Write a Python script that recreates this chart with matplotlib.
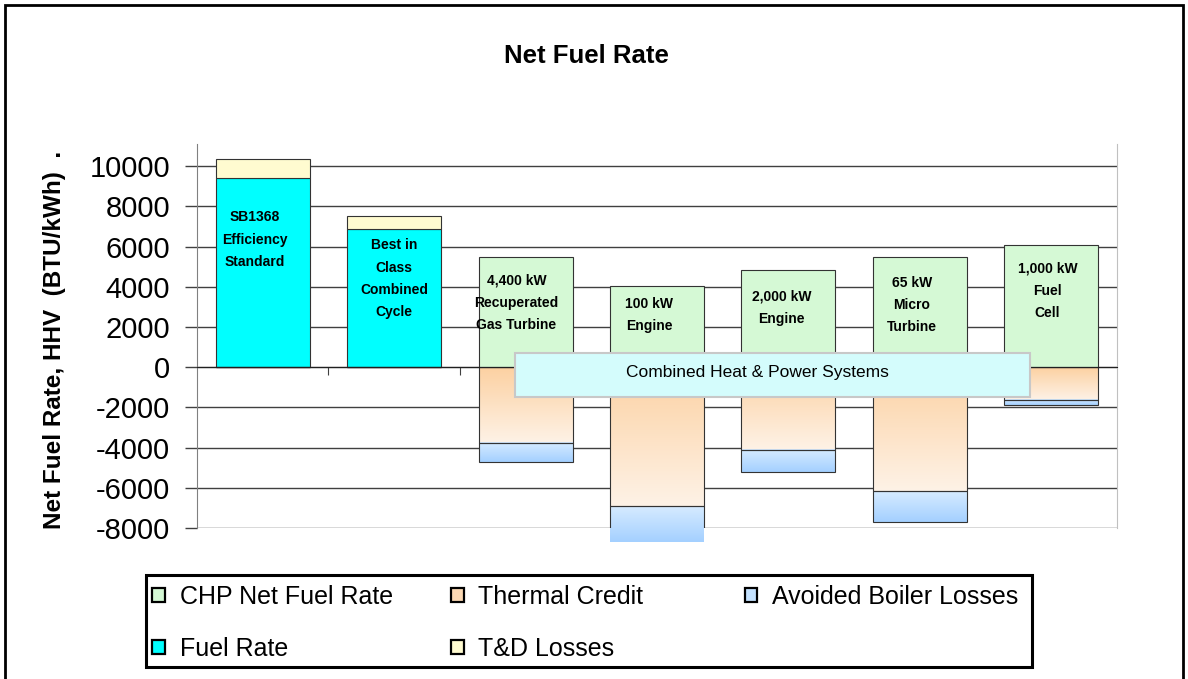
import numpy as np
import matplotlib
matplotlib.use("Agg")
import matplotlib.pyplot as plt
from matplotlib.patches import Patch, Rectangle
from matplotlib.colors import LinearSegmentedColormap

plt.rcParams['font.family'] = ['Liberation Sans', 'DejaVu Sans']

# values (BTU/kWh)
systems = ['SB1368\nEfficiency\nStandard', 'Best in\nClass\nCombined\nCycle',
           '4,400 kW\nRecuperated\nGas Turbine', '100 kW\nEngine',
           '2,000 kW\nEngine', '65 kW\nMicro\nTurbine', '1,000 kW\nFuel\nCell']
fuel_rate = [9400, 6870, 0, 0, 0, 0, 0]
td_losses = [930, 640, 0, 0, 0, 0, 0]
chp_net = [0, 0, 5470, 4050, 4840, 5460, 6080]
thermal_credit = [0, 0, -3780, -6930, -4110, -6170, -1630]
boiler_losses = [0, 0, -960, -1780, -1100, -1540, -260]
y_ticks = [-8000, -6000, -4000, -2000, 0, 2000, 4000, 6000, 8000, 10000]

# where the in-bar labels sit
label_y = [7800, 6400, 4650, 3500, 3850, 4550, 5250]
label_dx = [-0.06, 0.0, -0.07, -0.06, -0.05, -0.06, -0.03]

W, H = 1188, 679
fig = plt.figure(figsize=(W / 100, H / 100), dpi=100)
ax = fig.add_axes([197 / W, 1 - 528 / H, 920 / W, 384 / H])

x = np.arange(len(systems))
bw = 0.715
edge = '#333333'

c_chp = '#D5F9D5'
c_fuel = '#00FFFF'
c_td = '#FFFBD0'
cm_thermal = LinearSegmentedColormap.from_list('th', ['#FCD1A2', '#FEF2E6'])
cm_boiler = LinearSegmentedColormap.from_list('bo', ['#D6EBFF', '#A4D0FF'])
grad = np.linspace(0, 1, 64).reshape(-1, 1)

# positive stacks
ax.bar(x, fuel_rate, bw, color=c_fuel, edgecolor=edge, linewidth=0.8, zorder=3)
ax.bar(x, td_losses, bw, bottom=fuel_rate, color=c_td, edgecolor=edge, linewidth=0.8, zorder=3)
ax.bar(x, chp_net, bw, color=c_chp, edgecolor=edge, linewidth=0.8, zorder=3)

# negative stacks, filled with a vertical gradient like the original
for i in range(len(x)):
    if thermal_credit[i] == 0:
        continue
    x0, x1 = x[i] - bw / 2, x[i] + bw / 2
    t_bot = thermal_credit[i]
    b_bot = thermal_credit[i] + boiler_losses[i]
    ax.imshow(grad, extent=[x0, x1, t_bot, 0], origin='upper', cmap=cm_thermal,
              aspect='auto', zorder=2.5, clip_on=False)
    ax.imshow(grad, extent=[x0, x1, b_bot, t_bot], origin='upper', cmap=cm_boiler,
              aspect='auto', zorder=2.5, clip_on=False)

ax.bar(x, thermal_credit, bw, color='none', edgecolor=edge, linewidth=0.8, zorder=3)
ax.bar(x, boiler_losses, bw, bottom=thermal_credit, color='none', edgecolor=edge,
       linewidth=0.8, zorder=3)

for i, lab in enumerate(systems):
    ax.text(x[i] + label_dx[i], label_y[i], lab, ha='center', va='top', fontsize=10,
            fontweight='bold', linespacing=1.75, zorder=5)

ax.set_xlim(-0.5, len(systems) - 0.5)
ax.set_ylim(-8000, 11100)
ax.set_yticks(y_ticks)
ax.set_yticklabels([str(v) for v in y_ticks], fontsize=21)
ax.tick_params(axis='y', direction='out', length=8.5, width=1, color='#404040', pad=11)
ax.grid(axis='y', color='#404040', linewidth=1, zorder=0)
ax.set_axisbelow(True)

# category axis crosses at zero
ax.spines['bottom'].set_position(('data', 0))
ax.spines['bottom'].set_color('#202020')
ax.spines['bottom'].set_zorder(4)
ax.set_xticks(np.arange(0.5, len(systems) - 0.5, 1))
ax.set_xticklabels([])
ax.tick_params(axis='x', direction='out', length=6, color='#404040')
ax.spines['left'].set_color('#808080')
ax.spines['right'].set_color('#c0c0c0')
ax.spines['top'].set_visible(False)

ax.set_ylabel('Net Fuel Rate, HHV  (BTU/kWh)  .', fontsize=17.5, fontweight='bold')
ax.yaxis.set_label_coords(-0.142, 0.49)

fig.text(586 / W, 1 - 56 / H, 'Net Fuel Rate', ha='center', va='center',
         fontsize=18.5, fontweight='bold')

# annotation box across the CHP systems
fig.patches.append(Rectangle((515 / W, 1 - 397 / H), 515 / W, 44 / H,
                             transform=fig.transFigure, facecolor='#D4FCFC',
                             edgecolor='#C8C8C8', linewidth=1.5, zorder=6))
fig.text(757 / W, 1 - 372 / H, 'Combined Heat & Power Systems', ha='center',
         va='center', fontsize=12.5, zorder=7)

# outer frame
fig.patches.append(Rectangle((5 / W, -0.05), 1178 / W, 1 - 5 / H + 0.05,
                             transform=fig.transFigure, facecolor='none',
                             edgecolor='black', linewidth=2, zorder=0))

# legend: box with three equal-width columns
fig.patches.append(Rectangle((146 / W, 1 - 667 / H), 886 / W, 92 / H,
                             transform=fig.transFigure, facecolor='white',
                             edgecolor='black', linewidth=2.2, zorder=8))
columns = [
    [Patch(facecolor=c_chp, edgecolor='black', linewidth=1.6, label='CHP Net Fuel Rate'),
     Patch(facecolor=c_fuel, edgecolor='black', linewidth=1.6, label='Fuel Rate')],
    [Patch(facecolor='#FCD9B4', edgecolor='black', linewidth=1.6, label='Thermal Credit'),
     Patch(facecolor=c_td, edgecolor='black', linewidth=1.6, label='T&D Losses')],
    [Patch(facecolor='#C4E2FF', edgecolor='black', linewidth=1.6, label='Avoided Boiler Losses')],
]
col_x = [152, 451, 745]
for cx, hs in zip(col_x, columns):
    leg = fig.legend(handles=hs, loc='upper left', bbox_to_anchor=(cx / W, 1 - 585 / H),
                     fontsize=18, handlelength=0.5, handleheight=0.5,
                     handletextpad=0.6, labelspacing=1.1, borderpad=0,
                     borderaxespad=0, frameon=False)
    leg.set_zorder(9)

fig.savefig('out.png', dpi=100)
